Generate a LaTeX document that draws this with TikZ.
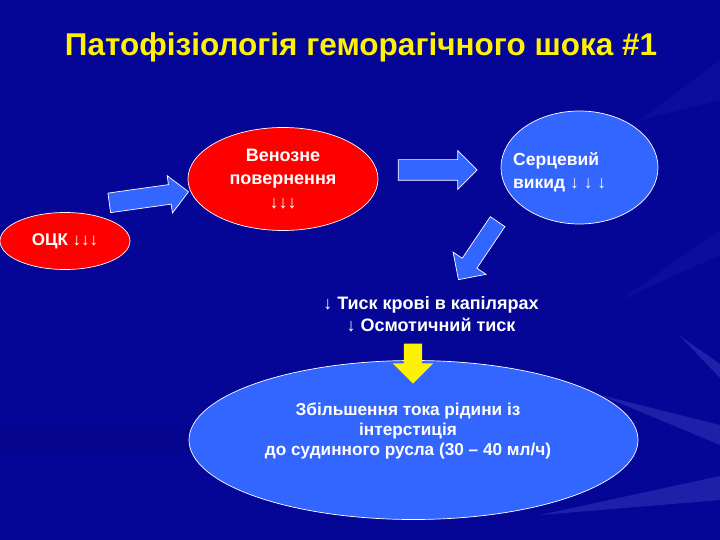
\documentclass[tikz,border=0pt]{standalone}
\usepackage{fontspec}
\setmainfont{Liberation Sans}
\usetikzlibrary{shapes.geometric,shapes.arrows,positioning}
\definecolor{bgblue}{RGB}{6,6,150}
\definecolor{ovalblue}{RGB}{51,102,255}
\definecolor{rayblue}{RGB}{90,100,215}

\begin{document}
\begin{tikzpicture}[x=1pt,y=-1pt,
    oval/.style={ellipse,draw=white,line width=0.7pt,inner sep=0pt,text=white,
        font=\bfseries\fontsize{17}{23}\selectfont,align=center},
    whitetext/.style={text=white,inner sep=0pt,font=\bfseries\fontsize{18}{22}\selectfont},
    blockarrow/.style={single arrow,draw=white,fill=ovalblue,line width=0.7pt,inner xsep=0pt,
        inner ysep=10pt,single arrow head extend=9pt,single arrow tip angle=90}]
    \useasboundingbox (0,0) rectangle (720,540);
    \fill[bgblue] (0,0) rectangle (720,540);
    \fill[black,opacity=0.06] (0,428) rectangle (190,452);
    \fill[rayblue,opacity=0.28] (600,395) -- (720,425) -- (720,445) -- cycle;
    \fill[rayblue,opacity=0.28] (540,515) -- (720,476) -- (720,500) -- cycle;
    \fill[rayblue,opacity=0.3] (680,336) -- (720,364) -- (720,378) -- cycle;
    \fill[rayblue,opacity=0.08] (640,120) -- (720,60) -- (720,100) -- cycle;
    \fill[rayblue,opacity=0.08] (620,300) -- (720,230) -- (720,255) -- cycle;

    \node[text=yellow,font=\bfseries\fontsize{31.5}{36}\selectfont] (title) at (361,47)
        {Патофізіологія геморагічного шока \#1};

    \node[oval,fill=red,minimum width=130pt,minimum height=57pt] (ock) at (65,241) {ОЦК ↓↓↓};
    \node[oval,fill=red,minimum width=190pt,minimum height=103pt,
        font=\bfseries\fontsize{18}{23.5}\selectfont] (venous) at (283,179)
        {Венозне\\повернення\\↓↓↓};
    \node[oval,fill=ovalblue,minimum width=157pt,minimum height=113pt] (cardiac) at (579.5,167.5) {};
    \node[whitetext,font=\bfseries\fontsize{17.5}{23}\selectfont,align=left,anchor=west]
        (cardiactext) at (513,172) {Серцевий\\викид ↓ ↓ ↓};

    \node[blockarrow,minimum height=80pt,inner ysep=9.5pt,rotate=8] (arrowA) at (144,198) {};
    \node[blockarrow,minimum height=79pt] (arrowB) at (432.5,170) {};
    \node[blockarrow,minimum height=70pt,rotate=236,inner ysep=8.5pt,
        single arrow head extend=11pt] (arrowC) at (480.5,247) {};

    \node[whitetext,align=center] (pressure) at (431,314)
        {↓ Тиск крові в капілярах\\↓ Осмотичний тиск};

    \node[oval,fill=ovalblue,minimum width=449pt,minimum height=159pt] (flow) at (413.5,440) {};
    \node[whitetext,font=\bfseries\fontsize{17.2}{20}\selectfont,align=center] (flowtext) at (408,431)
        {Збільшення тока рідини із\\інтерстиція\\до судинного русла (30 – 40 мл/ч)};
    \node[single arrow,fill=yellow,inner xsep=0pt,inner ysep=9pt,minimum height=40pt,rotate=-90,
        single arrow head extend=11pt,single arrow tip angle=90] (arrowD) at (413,359) {};
\end{tikzpicture}
\end{document}
